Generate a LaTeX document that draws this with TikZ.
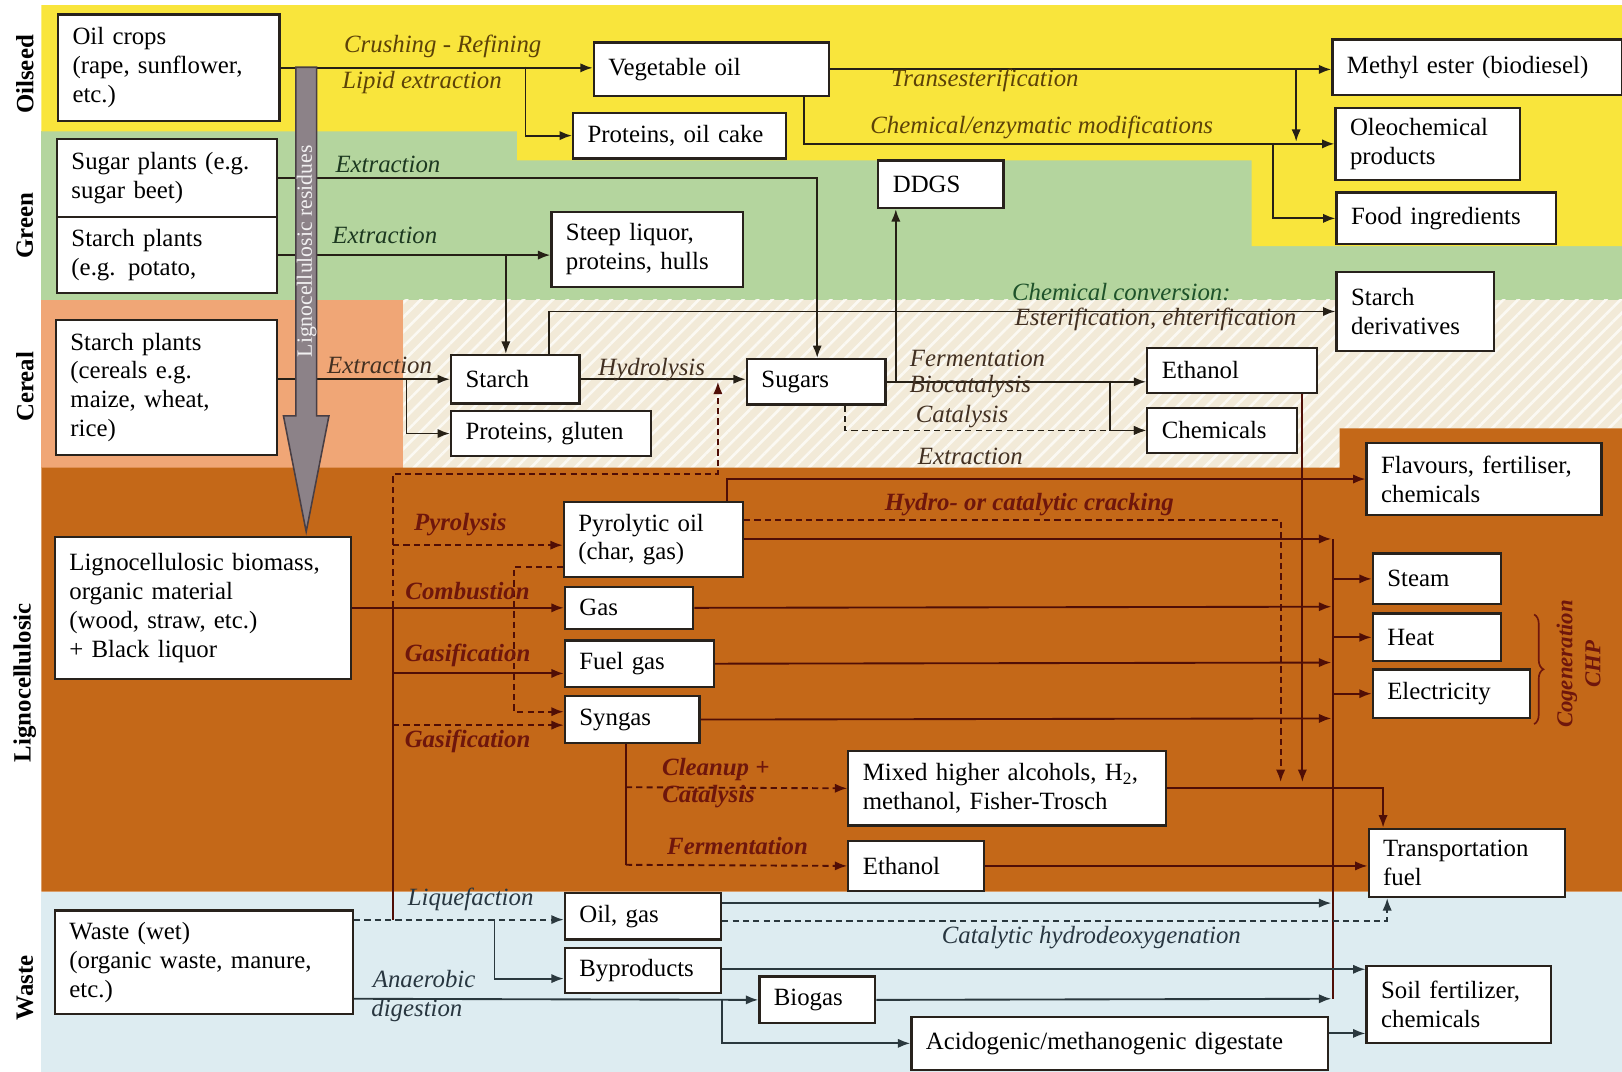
\documentclass[tikz,border=0pt]{standalone}
\usepackage{fontspec}
\setmainfont{Liberation Serif}
\usetikzlibrary{arrows.meta, positioning, patterns.meta, decorations.pathreplacing}

\definecolor{bandoil}{RGB}{249,229,60}
\definecolor{bandgreen}{RGB}{180,213,158}
\definecolor{bandsalmon}{RGB}{240,166,118}
\definecolor{bandbeige}{RGB}{242,234,216}
\definecolor{bandligno}{RGB}{196,104,24}
\definecolor{bandwaste}{RGB}{221,236,241}
\definecolor{boxline}{RGB}{40,34,28}
\definecolor{lineup}{RGB}{38,32,22}
\definecolor{lineligno}{RGB}{80,14,6}
\definecolor{linewaste}{RGB}{42,56,62}
\definecolor{txtoil}{RGB}{92,66,8}
\definecolor{txtgreen}{RGB}{28,56,32}
\definecolor{txtconv}{RGB}{30,82,42}
\definecolor{txtcereal}{RGB}{66,48,34}
\definecolor{txtligno}{RGB}{110,22,12}
\definecolor{txtwaste}{RGB}{40,54,64}
\definecolor{residue}{RGB}{140,130,136}
\definecolor{residueline}{RGB}{72,62,68}

\begin{document}
\begin{tikzpicture}[
    x=1pt, y=-1pt,
    box/.style={draw=boxline, line width=2.2pt, fill=white, anchor=north west,
        align=left, inner xsep=14pt, inner ysep=0pt, font=\fontsize{24}{28}\selectfont},
    lbl/.style={inner sep=0pt, font=\fontsize{24}{28}\selectfont\itshape},
    lblb/.style={inner sep=0pt, text=txtligno, font=\fontsize{24}{28}\selectfont\bfseries\itshape},
    side/.style={rotate=90, inner sep=0pt, font=\fontsize{24}{28}\selectfont\bfseries},
    arr/.style={line width=1.8pt, -{Latex[length=12pt,width=9pt]}},
    link/.style={line width=1.8pt},
    dsh/.style={dash pattern=on 6pt off 4pt},
]
\useasboundingbox (0,0) rectangle (1568,1036);

% bands
\fill[bandgreen] (40,127) rectangle (1568,290);
\fill[bandoil] (40,5) -- (1568,5) -- (1568,238) -- (1210,238) -- (1210,155)
    -- (500,155) -- (500,127) -- (40,127) -- cycle;
\fill[bandbeige] (390,290) rectangle (1568,452);
\fill[pattern={Lines[angle=45,distance=10pt,line width=2.5pt]},
    pattern color=white!70!bandbeige] (390,290) rectangle (1568,452);
\fill[bandsalmon] (40,290) rectangle (390,452);
\fill[bandligno] (40,452) -- (1295,452) -- (1295,414) -- (1568,414)
    -- (1568,862) -- (40,862) -- cycle;
\fill[bandwaste] (40,862) rectangle (1568,1036);

\node[side] (tagoil) at (24,72) {Oilseed};
\node[side] (taggreen) at (24,218) {Green};
\node[side] (tagcereal) at (24,374) {Cereal};
\node[side] (tagligno) at (24,660) {Lignocellulosic};
\node[side] (tagwaste) at (24,955) {Waste};

% sources
\node[box, text width=186pt, minimum height=103pt] (oil) at (55,13) {Oil crops\\(rape, sunflower,\\etc.)};
\node[box, text width=185pt, minimum height=76pt] (sugar) at (54,133) {Sugar plants (e.g.\\sugar beet)};
\node[box, text width=185pt, minimum height=73pt] (potato) at (54,209) {Starch plants\\(e.g. potato,};
\node[box, text width=186pt, minimum height=131pt] (cereal) at (53,308) {Starch plants\\(cereals e.g.\\maize, wheat,\\rice)};
\node[box, text width=258pt, minimum height=137pt] (ligno) at (52,518) {Lignocellulosic biomass,\\organic material\\(wood, straw, etc.)\\+ Black liquor};
\node[box, text width=260pt, minimum height=100pt] (waste) at (52,879) {Waste (wet)\\(organic waste, manure,\\etc.)};

% intermediates and products
\node[box, text width=199pt, minimum height=52pt] (vegoil) at (573,40) {Vegetable oil};
\node[box, text width=178pt, minimum height=44pt] (cake) at (553,108) {Proteins, oil cake};
\node[box, text width=93pt, minimum height=46pt] (ddgs) at (848,154) {DDGS};
\node[box, text width=157pt, minimum height=72pt] (steep) at (532,204) {Steep liquor,\\proteins, hulls};
\node[box, text width=96pt, minimum height=47pt] (starch) at (435,342) {Starch};
\node[box, text width=165pt, minimum height=44pt] (gluten) at (435,396) {Proteins, gluten};
\node[box, text width=106pt, minimum height=44pt] (sugars) at (721,346) {Sugars};
\node[box, text width=136pt, minimum height=44pt] (ethc) at (1108,335) {Ethanol};
\node[box, text width=117pt, minimum height=44pt] (chems) at (1108,393) {Chemicals};
\node[box, text width=124pt, minimum height=76pt] (sderiv) at (1291,262) {Starch\\derivatives};
\node[box, text width=252pt, minimum height=54pt] (methyl) at (1287,37) {Methyl ester (biodiesel)};
\node[box, text width=150pt, minimum height=70pt] (oleo) at (1290,103) {Oleochemical\\products};
\node[box, text width=184pt, minimum height=50pt] (food) at (1291,185) {Food ingredients};
\node[box, text width=199pt, minimum height=70pt] (flav) at (1320,427) {Flavours, fertiliser,\\chemicals};
\node[box, text width=145pt, minimum height=73pt] (pyro) at (544,484) {Pyrolytic oil\\(char, gas)};
\node[box, text width=96pt, minimum height=41pt] (gas) at (545,566) {Gas};
\node[box, text width=116pt, minimum height=45pt] (fuel) at (545,618) {Fuel gas};
\node[box, text width=102pt, minimum height=45pt] (syn) at (545,672) {Syngas};
\node[box, text width=96pt, minimum height=49pt] (steam) at (1326,534) {Steam};
\node[box, text width=96pt, minimum height=46pt] (heat) at (1326,592) {Heat};
\node[box, text width=124pt, minimum height=47pt] (elec) at (1326,646) {Electricity};
\node[box, text width=279pt, minimum height=72pt] (mixed) at (819,725) {Mixed higher alcohols, H\textsubscript{2},\\methanol, Fisher-Trosch};
\node[box, text width=103pt, minimum height=48pt] (ethl) at (819,812) {Ethanol};
\node[box, text width=162pt, minimum height=66pt] (trans) at (1322,800) {Transportation\\fuel};
\node[box, text width=123pt, minimum height=45pt] (oilgas) at (545,862) {Oil, gas};
\node[box, text width=123pt, minimum height=44pt] (byprod) at (545,915) {Byproducts};
\node[box, text width=84pt, minimum height=45pt] (biogas) at (733,943) {Biogas};
\node[box, text width=375pt, minimum height=51pt] (digest) at (880,982) {Acidogenic/methanogenic digestate};
\node[box, text width=150pt, minimum height=74pt] (soilf) at (1320,933) {Soil fertilizer,\\chemicals};

% oilseed routes
\draw[arr, lineup] (oil.east) -- (vegoil.west |- oil.east);
\draw[arr, lineup] (508,64.5) |- (cake.west);
\draw[arr, lineup] (vegoil.east) -- (methyl.west |- vegoil.east);
\draw[arr, lineup] (1253,66) -- (1253,137);
\draw[arr, lineup] (vegoil.south -| 777,0) |- (oleo.west);
\draw[arr, lineup] (1231,138) |- (food.west);

% green and cereal routes
\draw[arr, lineup] (sugar.east) -| (sugars.north -| 790,0);
\draw[arr, lineup] (potato.east) -- (steep.west |- potato.east);
\draw[arr, lineup] (489,245.5) -- (starch.north -| 489,0);
\draw[arr, lineup] (starch.north -| 531,0) |- (sderiv.west);
\draw[arr, lineup] (866,368) -- (ddgs.south -| 866,0);
\draw[arr, lineup] (cereal.east |- starch.west) -- (starch.west);
\draw[arr, lineup] (393,365.5) |- (gluten.west);
\draw[arr, lineup] (starch.east) -- (sugars.west |- starch.east);
\draw[arr, lineup] (sugars.east) -- (ethc.west |- sugars.east);
\draw[arr, lineup] (1073,368) |- (chems.west);
\draw[arr, lineup, dsh] (sugars.south -| 817,0) |- (chems.west);

% lignocellulosic routes
\draw[arr, lineligno] (ligno.east) -- (gas.west |- ligno.east);
\draw[link, lineligno] (380,586.5) -- (380,889);
\draw[arr, lineligno, dsh] (380,586.5) -- (380,458) -| (694,369);
\draw[arr, lineligno, dsh] (380,527) -- (pyro.west |- 0,527);
\draw[arr, lineligno] (380,651) -- (fuel.west |- 0,651);
\draw[arr, lineligno, dsh] (380,701) -- (syn.west |- 0,701);
\draw[arr, lineligno, dsh] (pyro.west |- 0,548) -| (497,688) -- (syn.west |- 0,688);
\draw[arr, lineligno] (pyro.north -| 703,0) |- (flav.west);
\draw[arr, lineligno, dsh] (pyro.east |- 0,503) -| (1238,756);
\draw[arr, lineligno] (ethc.south -| 1259,0) -- (1259,756);
\draw[arr, lineligno] (pyro.east |- 0,521) -- (1287,521);
\draw[arr, lineligno] (gas.east) -- (1287,586.5);
\draw[arr, lineligno] (fuel.east) -- (1287,640.5);
\draw[arr, lineligno] (syn.east) -- (1287,694.5);
\draw[link, lineligno, line width=2pt] (1289,521) -- (1289,966);
\foreach \out in {steam, heat, elec}
    \draw[arr, lineligno] (\out.west -| 1289,0) -- (\out.west);
\draw[link, lineligno] (syn.south -| 605,0) -- (605,836);
\draw[arr, lineligno, dsh] (605,761) -- (mixed.west);
\draw[arr, lineligno, dsh] (605,836) -- (ethl.west);
\draw[arr, lineligno] (mixed.east) -| (trans.north -| 1337,0);
\draw[arr, lineligno] (ethl.east) -- (trans.west |- ethl.east);

% waste routes
\draw[arr, linewaste] (oilgas.east |- 0,873) -- (1287,873);
\draw[arr, linewaste, dsh] (oilgas.east |- 0,890) -| (trans.south -| 1341,0);
\draw[arr, linewaste] (byprod.east |- 0,937) -- (soilf.west |- 0,937);
\draw[arr, linewaste] (biogas.east) -- (1287,965.5);
\draw[arr, linewaste] (digest.east |- 0,999) -- (soilf.west |- 0,999);
\draw[arr, linewaste, dsh] (waste.east |- 0,889) -- (oilgas.west |- 0,889);
\draw[arr, linewaste] (478,889) |- (byprod.west |- 0,946);
\draw[arr, linewaste] (waste.east |- 0,965.5) -- (biogas.west);
\draw[arr, linewaste] (698,965.5) |- (digest.west);

% residues arrow
\draw[residueline, fill=residue, line width=1.5pt] (286,65) -- (306,65) -- (306,402)
    -- (318,402) -- (296,514) -- (274,402) -- (286,402) -- cycle;
\node[rotate=90, inner sep=0pt, text=white!88!residue, font=\fontsize{21}{21}\selectfont]
    (resid) at (296.5,243) {Lignocellulosic residues};

% route labels
\node[lbl, text=txtoil] (lcrush) at (428,45) {Crushing - Refining};
\node[lbl, text=txtoil] (llipid) at (408,80) {Lipid extraction};
\node[lbl, text=txtoil] (ltrans) at (952,78) {Transesterification};
\node[lbl, text=txtoil] (lmod) at (1007,123) {Chemical/enzymatic modifications};
\node[lbl, text=txtgreen] (lext1) at (375,159) {Extraction};
\node[lbl, text=txtgreen] (lext2) at (372,228) {Extraction};
\node[lbl, text=txtconv] (lconv) at (1084,282) {Chemical conversion:};
\node[lbl, text=txtcereal] (lester) at (1117,309) {Esterification, ehterification};
\node[lbl, text=txtcereal] (lext3) at (367,353) {Extraction};
\node[lbl, text=txtcereal] (lhydro) at (630,357) {Hydrolysis};
\node[lbl, text=txtcereal] (lferm) at (945,346) {Fermentation};
\node[lbl, text=txtcereal] (lbio) at (938,374) {Biocatalysis};
\node[lbl, text=txtcereal] (lcat) at (930,403) {Catalysis};
\node[lbl, text=txtcereal] (lext4) at (938,441) {Extraction};
\node[lblb] (lcrack) at (995,488) {Hydro- or catalytic cracking};
\node[lblb] (lpyro) at (445,507) {Pyrolysis};
\node[lblb] (lcomb) at (452,571) {Combustion};
\node[lblb] (lgas1) at (452,634) {Gasification};
\node[lblb] (lgas2) at (452,717) {Gasification};
\node[lblb] (lclean) at (692,744) {Cleanup +};
\node[lblb] (lcat2) at (685,770) {Catalysis};
\node[lblb] (lferm2) at (713,818) {Fermentation};
\node[lbl, text=txtwaste] (lliq) at (455,869) {Liquefaction};
\node[lbl, text=txtwaste] (lhdo) at (1055,906) {Catalytic hydrodeoxygenation};
\node[lbl, text=txtwaste] (lanae) at (410,946) {Anaerobic};
\node[lbl, text=txtwaste] (ldig) at (403,977) {digestion};

% cogeneration brace
\draw[decorate, decoration={brace, amplitude=9pt}, line width=1.6pt, txtligno]
    (1483,594) -- (1483,700);
\node[lblb, rotate=90, align=center, font=\fontsize{22}{27}\selectfont\bfseries\itshape]
    (chp) at (1526,642) {Cogeneration\\CHP};
\end{tikzpicture}
\end{document}
